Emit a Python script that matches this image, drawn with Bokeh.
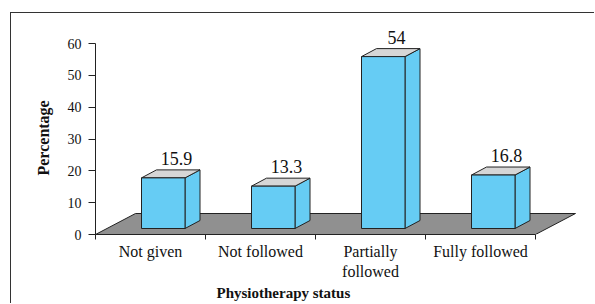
from bokeh.plotting import figure
from bokeh.models import ColumnDataSource, FixedTicker, Range1d, Title
from bokeh.core.properties import value
from bokeh.embed import file_html
from bokeh.resources import INLINE

# ---- data ----
categories = ["Not given", "Not followed", "Partially\nfollowed", "Fully followed"]
percentages = [15.9, 13.3, 54, 16.8]
value_labels = ["15.9", "13.3", "54", "16.8"]
y_ticks = [0, 10, 20, 30, 40, 50, 60]

# ---- geometry helpers (pixel -> data units) ----
XPX = 110.0          # pixels per category
YPX = 191.0 / 60.0   # pixels per percentage point
def dx(px): return px / XPX
def dy(px): return px / YPX

FONT = "Liberation Serif"
BLUE = "#66CCF4"
TOPC = "#D6D6D6"
FLOOR = "#909090"
EDGE = "#222222"

p = figure(width=584, height=291, output_backend="svg", toolbar_location=None,
           x_range=Range1d(0, 490 / XPX), y_range=Range1d(0, 210 / YPX),
           min_border_left=84, min_border_right=10, min_border_top=11,
           min_border_bottom=70, background_fill_color="white",
           border_fill_color="white")
p.styles = {"margin-left": "10px", "margin-top": "12px",
            "border-left": "1px solid #333333", "border-top": "1px solid #333333"}
p.outline_line_color = None
p.grid.visible = False

n = len(categories)
centers = [i + 0.5 for i in range(n)]

# floor
depth_x, depth_y = dx(40), dy(21)
p.patch([0, n, n + depth_x, depth_x], [0, 0, depth_y, depth_y],
        fill_color=FLOOR, line_color=EDGE, line_width=1)

# bars
fl, fr, bot, top = [], [], [], []
tops_x, tops_y, side_x, side_y = [], [], [], []
bdx, bdy = dx(15), dy(8)
for c, v in zip(centers, percentages):
    l = c + dx(-9); r = c + dx(34.5); b = dy(6); t = b + v
    fl.append(l); fr.append(r); bot.append(b); top.append(t)
    tops_x.append([l, r, r + bdx, l + bdx]); tops_y.append([t, t, t + bdy, t + bdy])
    side_x.append([r, r + bdx, r + bdx, r]); side_y.append([b, b + bdy, t + bdy, t])

p.patches(side_x, side_y, fill_color=BLUE, line_color=EDGE, line_width=1)
p.patches(tops_x, tops_y, fill_color=TOPC, line_color=EDGE, line_width=1)
p.quad(left=fl, right=fr, bottom=bot, top=top, fill_color=BLUE,
       line_color=EDGE, line_width=1)

lab_src = ColumnDataSource(dict(x=[c + dx(26) for c in centers],
                                y=[t + dy(13) for t in top], text=value_labels))
p.text(x="x", y="y", text="text", source=lab_src, text_align="center",
       text_baseline="bottom", text_font=value(FONT),
       text_font_size=value("18px"), text_color="#111111")

# axes
xa = p.xaxis[0]
xa.ticker = FixedTicker(ticks=centers, minor_ticks=list(range(n + 1)))
xa.major_label_overrides = {c: lab for c, lab in zip(centers, categories)}
xa.bounds = (0, n)
xa.major_tick_out = 0
xa.major_tick_in = 0
xa.minor_tick_out = 5
xa.minor_tick_in = 0
xa.major_label_standoff = 3
xa.major_label_text_font = FONT
xa.major_label_text_font_size = "16px"
xa.major_label_text_color = "#111111"
xa.axis_line_color = EDGE
xa.minor_tick_line_color = EDGE

ya = p.yaxis[0]
ya.ticker = FixedTicker(ticks=y_ticks, minor_ticks=[])
ya.bounds = (0, 60)
ya.major_tick_out = 7
ya.major_tick_in = 0
ya.minor_tick_out = 0
ya.minor_tick_in = 0
ya.major_label_standoff = 7
ya.major_label_text_font = FONT
ya.major_label_text_font_size = "14px"
ya.major_label_text_color = "#111111"
ya.axis_line_color = EDGE
ya.major_tick_line_color = EDGE

# axis titles
p.add_layout(Title(text="Physiotherapy status", align="left", offset=121, standoff=0,
                   text_font=FONT, text_font_style="bold", text_font_size="15px",
                   text_color="#111111"), "below")
p.add_layout(Title(text="Percentage", align="left", offset=59, standoff=26,
                   text_font=FONT, text_font_style="bold", text_font_size="16px",
                   text_color="#111111"), "left")

open("out.html", "w").write(file_html(p, INLINE))
